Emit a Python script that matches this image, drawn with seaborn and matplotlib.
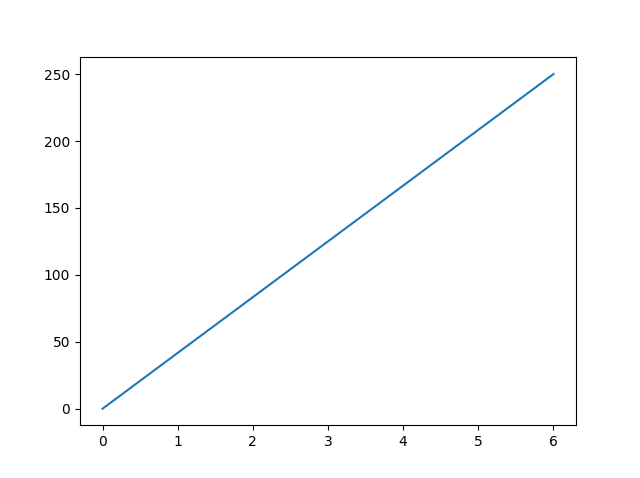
import matplotlib
matplotlib.use("Agg")
import matplotlib.pyplot as plt
import seaborn as sns
import pandas as pd

x_values = [0, 6]
y_values = [0, 250]

df = pd.DataFrame({"x": x_values, "y": y_values})

fig, ax = plt.subplots(figsize=(6.4, 4.78), dpi=100)
sns.lineplot(data=df, x="x", y="y", ax=ax, color="#1f77b4")
ax.set_xlabel("")
ax.set_ylabel("")
fig.savefig("out.png", dpi=100)
